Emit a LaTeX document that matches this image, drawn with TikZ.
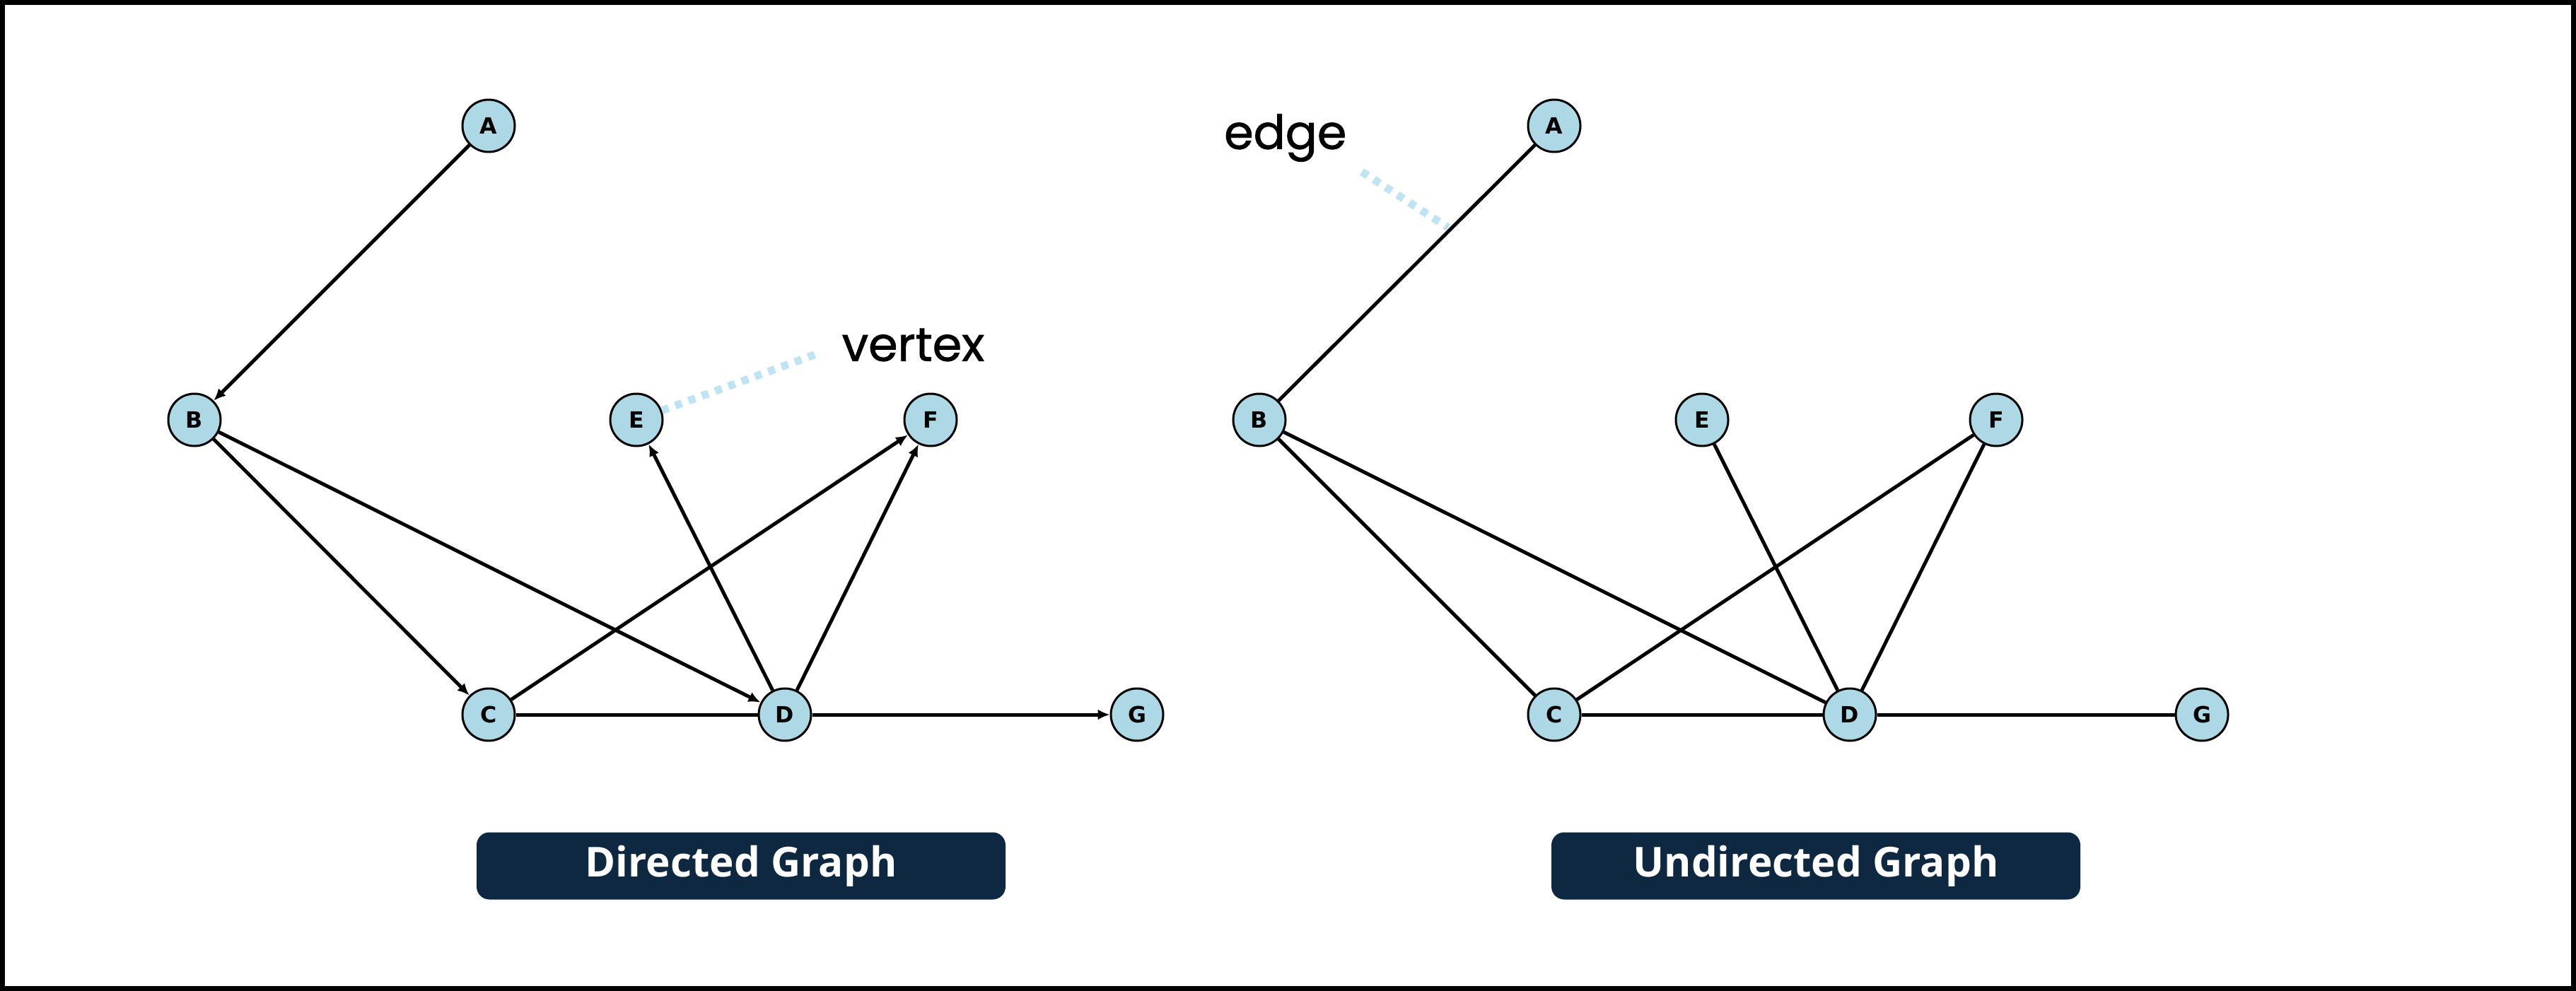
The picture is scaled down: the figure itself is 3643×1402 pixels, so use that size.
\documentclass[tikz,border=0pt]{standalone}
\usepackage{fontspec}
\usepackage{xcolor}
\usetikzlibrary{arrows.meta}

\newfontfamily\vertexfont{DejaVu Sans}
\newfontfamily\notefont{Poppins}[FakeBold=1.2]
\newfontfamily\titlefont{Open Sans}
\definecolor{vfill}{HTML}{ADD8E6}
\definecolor{navy}{HTML}{0F2842}
\definecolor{hintblue}{HTML}{BEE3F3}

\tikzset{
	vnode/.style={circle, draw, line width=0.3mm, fill=vfill, minimum size=7.4mm, inner sep=0pt,
		font=\vertexfont\bfseries\fontsize{9}{9}\selectfont},
	edgeline/.style={line width=0.5mm},
	arrowline/.style={edgeline, -{Latex[length=1.7mm,width=1.5mm]}},
	hint/.style={hintblue, line width=1.1mm, dash pattern=on 1mm off 1mm},
	lbl/.style={inner sep=0pt, font=\notefont\fontsize{19}{19}\selectfont},
	gtitle/.style={fill=navy, rounded corners=1.8mm, minimum width=74.8mm, minimum height=9.5mm,
		text=white, font=\titlefont\bfseries\fontsize{16.6}{16.6}\selectfont}
}

\begin{document}
\begin{tikzpicture}[x=0.1mm, y=-0.1mm]
\useasboundingbox (0,0) rectangle (3643,1402);
\draw[line width=0.7mm] (3.5,3.5) rectangle (3639.5,1398.5);

\node[vnode] (a1) at (691,178) {A};
\node[vnode] (b1) at (275,594) {B};
\node[vnode] (c1) at (691,1011) {C};
\node[vnode] (d1) at (1110,1011) {D};
\node[vnode] (e1) at (900,594) {E};
\node[vnode] (f1) at (1316,594) {F};
\node[vnode] (g1) at (1608,1011) {G};

\draw[arrowline] (a1) -- (b1);
\draw[arrowline] (b1) -- (c1);
\draw[arrowline] (b1) -- (d1);
\draw[edgeline] (c1) -- (d1);
\draw[arrowline] (c1) -- (f1);
\draw[arrowline] (d1) -- (e1);
\draw[arrowline] (d1) -- (f1);
\draw[arrowline] (d1) -- (g1);

\node[lbl, anchor=west] (vlabel) at (1190,488) {vertex};
\draw[hint, shorten >=4mm] (e1) -- (vlabel.west);

\node[vnode] (a2) at (2198,178) {A};
\node[vnode] (b2) at (1781,594) {B};
\node[vnode] (c2) at (2198,1011) {C};
\node[vnode] (d2) at (2616,1011) {D};
\node[vnode] (e2) at (2407,594) {E};
\node[vnode] (f2) at (2823,594) {F};
\node[vnode] (g2) at (3114,1011) {G};

\draw[edgeline] (a2) -- (b2);
\draw[edgeline] (b2) -- (c2);
\draw[edgeline] (b2) -- (d2);
\draw[edgeline] (c2) -- (d2);
\draw[edgeline] (c2) -- (f2);
\draw[edgeline] (d2) -- (e2);
\draw[edgeline] (d2) -- (f2);
\draw[edgeline] (d2) -- (g2);

\node[lbl, anchor=east] (elabel) at (1905,195) {edge};
\coordinate (emid) at (2048,322);
\draw[hint, shorten <=2.5mm] (elabel.south east) -- (emid);

\node[gtitle] (t1) at (1048,1225) {Directed Graph};
\node[gtitle] (t2) at (2568,1225) {Undirected Graph};
\end{tikzpicture}
\end{document}
